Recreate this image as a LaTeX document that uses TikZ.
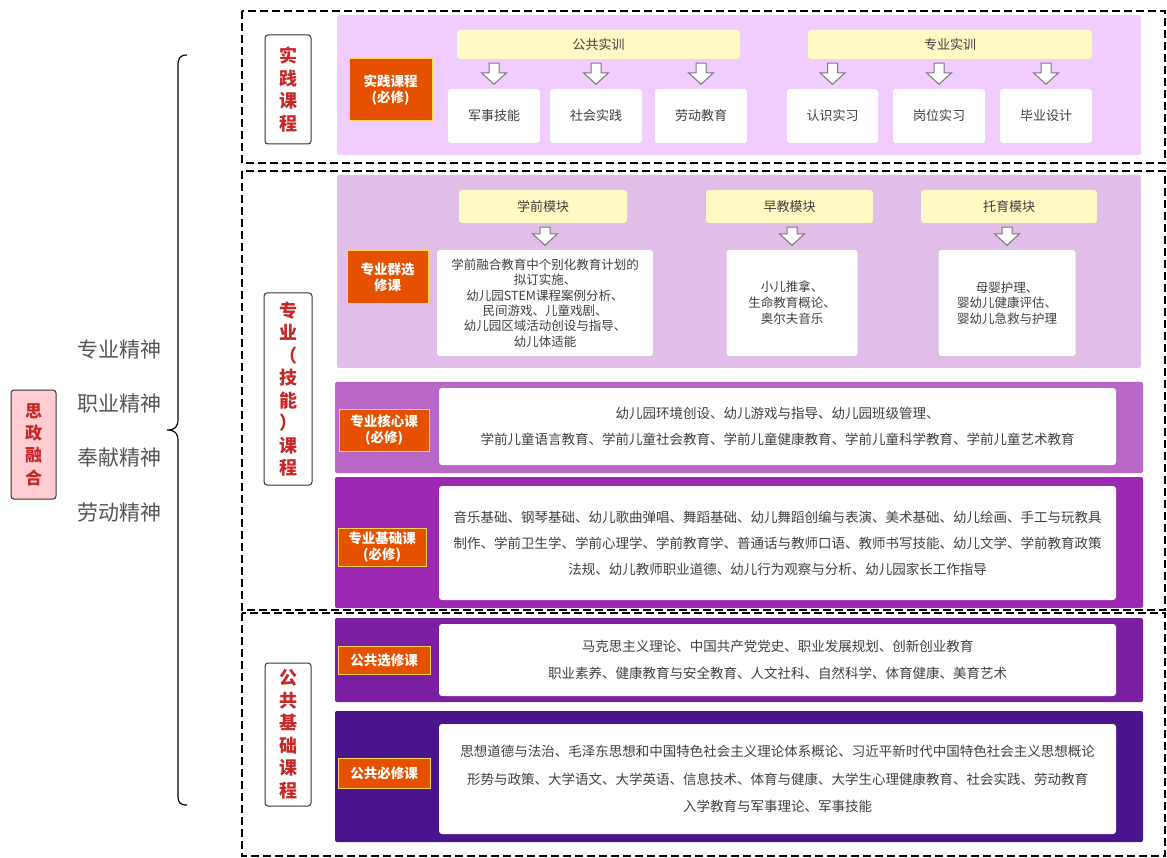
\documentclass[tikz,border=0pt]{standalone}
\usepackage{fontspec}
\setmainfont{Noto Sans CJK SC}
\usetikzlibrary{calc}

\definecolor{bandA}{RGB}{240,204,255}
\definecolor{bandB}{RGB}{225,190,231}
\definecolor{bandC}{RGB}{186,104,200}
\definecolor{bandD}{RGB}{156,39,176}
\definecolor{bandE}{RGB}{123,31,162}
\definecolor{bandF}{RGB}{74,20,140}
\definecolor{tagorange}{RGB}{230,81,0}
\definecolor{tagyellow}{RGB}{255,213,79}
\definecolor{baryellow}{RGB}{255,249,196}
\definecolor{labelred}{RGB}{198,40,40}
\definecolor{labelpink}{RGB}{255,205,210}
\definecolor{textgray}{RGB}{64,64,64}
\definecolor{spiritgray}{RGB}{85,85,85}
\definecolor{arrowgray}{RGB}{120,120,120}

\tikzset{
    zone/.style={draw=black, line width=1.5pt, dash pattern=on 8pt off 4pt},
    sidelabel/.style={draw=black!80, line width=1pt, rounded corners=3pt, fill=white, text=labelred,
        font=\bfseries\fontsize{18}{22.5}\selectfont, align=center, inner sep=0pt},
    tag/.style={fill=tagorange, draw=tagyellow, line width=1pt, text=white,
        font=\bfseries\fontsize{13.5}{16.5}\selectfont, align=center, inner sep=0pt},
    bar/.style={fill=baryellow, rounded corners=3pt, text=textgray,
        font=\fontsize{13}{15}\selectfont, inner sep=0pt},
    card/.style={fill=white, rounded corners=3pt, text=textgray, align=center, inner sep=0pt},
    hollow/.style={draw=arrowgray, fill=white, line width=1pt, line join=miter},
}

% hollow block arrow from a bar down to a card
\newcommand{\hollowarrow}[2]{%
    \draw[hollow] ($(#2.north |- #1.south)+(-5,4)$) -- ++(10,0)
        -- ($(#2.north)+(5,-16)$) -- ++(7.5,0) -- ($(#2.north)+(0,-4.5)$)
        -- ($(#2.north)+(-12.5,-16)$) -- ++(7.5,0) -- cycle;
}

\begin{document}
\begin{tikzpicture}[x=1pt, y=-1pt]
    \useasboundingbox (0,0) rectangle (1167,858);

    % left part
    \node[draw=black!80, line width=1pt, rounded corners=3pt, fill=labelpink, text=labelred,
        font=\bfseries\fontsize{17}{22.3}\selectfont, align=center, inner sep=0pt,
        minimum width=45, minimum height=109] (szrh) at (33.5,444.5) {思\\政\\融\\合};

    \node[text=spiritgray, font=\fontsize{21}{21}\selectfont] (zyjs) at (119,350) {专业精神};
    \node[text=spiritgray, font=\fontsize{21}{21}\selectfont] (zhjs) at (119,404) {职业精神};
    \node[text=spiritgray, font=\fontsize{21}{21}\selectfont] (fxjs) at (119,458) {奉献精神};
    \node[text=spiritgray, font=\fontsize{21}{21}\selectfont] (ldjs) at (119,513) {劳动精神};

    \draw[line width=1.2pt] (187,55) .. controls (180,55) and (178,58) .. (178,66)
        -- (178,419) .. controls (178,427) and (175,430) .. (167,430)
        .. controls (175,430) and (178,433) .. (178,441)
        -- (178,795) .. controls (178,803) and (180,805) .. (187,805);

    % dashed zones
    \draw[zone] (242,11) rectangle (1165,163);
    \draw[zone] (242,171) rectangle (1165,610);
    \draw[zone] (242,613) rectangle (1165,856);

    \node[sidelabel, minimum width=46, minimum height=109] (sjkc) at (288,89.5) {实\\践\\课\\程};
    \node[sidelabel, minimum width=48, minimum height=192] (zykc) at (288,389) {专\\业\\（\\技\\能\\）\\课\\程};
    \node[sidelabel, minimum width=46, minimum height=143] (ggkc) at (288,734.5) {公\\共\\基\\础\\课\\程};

    % colour bands
    \fill[bandA, rounded corners=2pt] (337,15) rectangle (1141,155);
    \fill[bandB, rounded corners=2pt] (337,175) rectangle (1141,368);
    \fill[bandC, rounded corners=2pt] (335,382) rectangle (1143,473);
    \fill[bandD, rounded corners=2pt] (335,477) rectangle (1143,608);
    \fill[bandE, rounded corners=2pt] (335,618) rectangle (1143,702);
    \fill[bandF, rounded corners=2pt] (335,711) rectangle (1143,842);

    % practice courses
    \node[tag, minimum width=83, minimum height=62] (sjtag) at (390.5,90) {实践课程\\(必修)};
    \node[bar, minimum width=283, minimum height=29] (ggsx) at (598.5,44.5) {公共实训};
    \node[bar, minimum width=284, minimum height=29] (zysx) at (950,44.5) {专业实训};

    \node[card, minimum width=92, minimum height=54, font=\fontsize{13}{15}\selectfont] (jsjn) at (494,116) {军事技能};
    \node[card, minimum width=92, minimum height=54, font=\fontsize{13}{15}\selectfont] (shsj) at (596,116) {社会实践};
    \node[card, minimum width=92, minimum height=54, font=\fontsize{13}{15}\selectfont] (ldjy) at (701,116) {劳动教育};
    \node[card, minimum width=91, minimum height=54, font=\fontsize{13}{15}\selectfont] (rssx) at (832.5,116) {认识实习};
    \node[card, minimum width=92, minimum height=54, font=\fontsize{13}{15}\selectfont] (gwsx) at (939,116) {岗位实习};
    \node[card, minimum width=92, minimum height=54, font=\fontsize{13}{15}\selectfont] (bysj) at (1046,116) {毕业设计};

    \hollowarrow{ggsx}{jsjn}
    \hollowarrow{ggsx}{shsj}
    \hollowarrow{ggsx}{ldjy}
    \hollowarrow{zysx}{rssx}
    \hollowarrow{zysx}{gwsx}
    \hollowarrow{zysx}{bysj}

    % elective modules
    \node[tag, minimum width=81, minimum height=53] (xxtag) at (387.5,277.5) {专业群选\\修课};
    \node[bar, minimum width=168, minimum height=33] (xqmk) at (543,206.5) {学前模块};
    \node[bar, minimum width=167, minimum height=33] (zjmk) at (789.5,206.5) {早教模块};
    \node[bar, minimum width=176, minimum height=33] (tymk) at (1009,206.5) {托育模块};

    \node[card, minimum width=216, minimum height=106, font=\fontsize{12.5}{15.3}\selectfont] (xqcard) at (545,303)
        {学前融合教育中个别化教育计划的\\拟订实施、\\幼儿园STEM课程案例分析、\\民间游戏、儿童戏剧、\\幼儿园区域活动创设与指导、\\幼儿体适能};
    \node[card, minimum width=131, minimum height=106, font=\fontsize{12.5}{16}\selectfont] (zjcard) at (792,303)
        {小儿推拿、\\生命教育概论、\\奥尔夫音乐};
    \node[card, minimum width=137, minimum height=106, font=\fontsize{12.5}{15.5}\selectfont] (tycard) at (1007,303)
        {母婴护理、\\婴幼儿健康评估、\\婴幼儿急救与护理};

    \hollowarrow{xqmk}{xqcard}
    \hollowarrow{zjmk}{zjcard}
    \hollowarrow{tymk}{tycard}

    % core, basic and public courses
    \node[tag, minimum width=90, minimum height=42] (hxtag) at (384,430) {专业核心课\\(必修)};
    \node[card, minimum width=677, minimum height=77, font=\fontsize{13.5}{26}\selectfont] (hxcard) at (777.5,426.5)
        {幼儿园环境创设、幼儿游戏与指导、幼儿园班级管理、\\学前儿童语言教育、学前儿童社会教育、学前儿童健康教育、学前儿童科学教育、学前儿童艺术教育};

    \node[tag, minimum width=88, minimum height=38] (jctag) at (382,547) {专业基础课\\(必修)};
    \node[card, minimum width=677, minimum height=114, font=\fontsize{13.5}{26}\selectfont] (jccard) at (777.5,543)
        {音乐基础、钢琴基础、幼儿歌曲弹唱、舞蹈基础、幼儿舞蹈创编与表演、美术基础、幼儿绘画、手工与玩教具\\
         制作、学前卫生学、学前心理学、学前教育学、普通话与教师口语、教师书写技能、幼儿文学、学前教育政策\\
         法规、幼儿教师职业道德、幼儿行为观察与分析、幼儿园家长工作指导};

    \node[tag, minimum width=92, minimum height=28] (gxtag) at (384,660) {公共选修课};
    \node[card, minimum width=677, minimum height=72, font=\fontsize{13.5}{27.5}\selectfont] (gxcard) at (777.5,660)
        {马克思主义理论、中国共产党党史、职业发展规划、创新创业教育\\职业素养、健康教育与安全教育、人文社科、自然科学、体育健康、美育艺术};

    \node[tag, minimum width=92, minimum height=30] (gbtag) at (384,773) {公共必修课};
    \node[card, minimum width=677, minimum height=110, font=\fontsize{13.5}{27.5}\selectfont] (gbcard) at (777.5,779)
        {思想道德与法治、毛泽东思想和中国特色社会主义理论体系概论、习近平新时代中国特色社会主义思想概论\\
         形势与政策、大学语文、大学英语、信息技术、体育与健康、大学生心理健康教育、社会实践、劳动教育\\
         入学教育与军事理论、军事技能};
\end{tikzpicture}
\end{document}
